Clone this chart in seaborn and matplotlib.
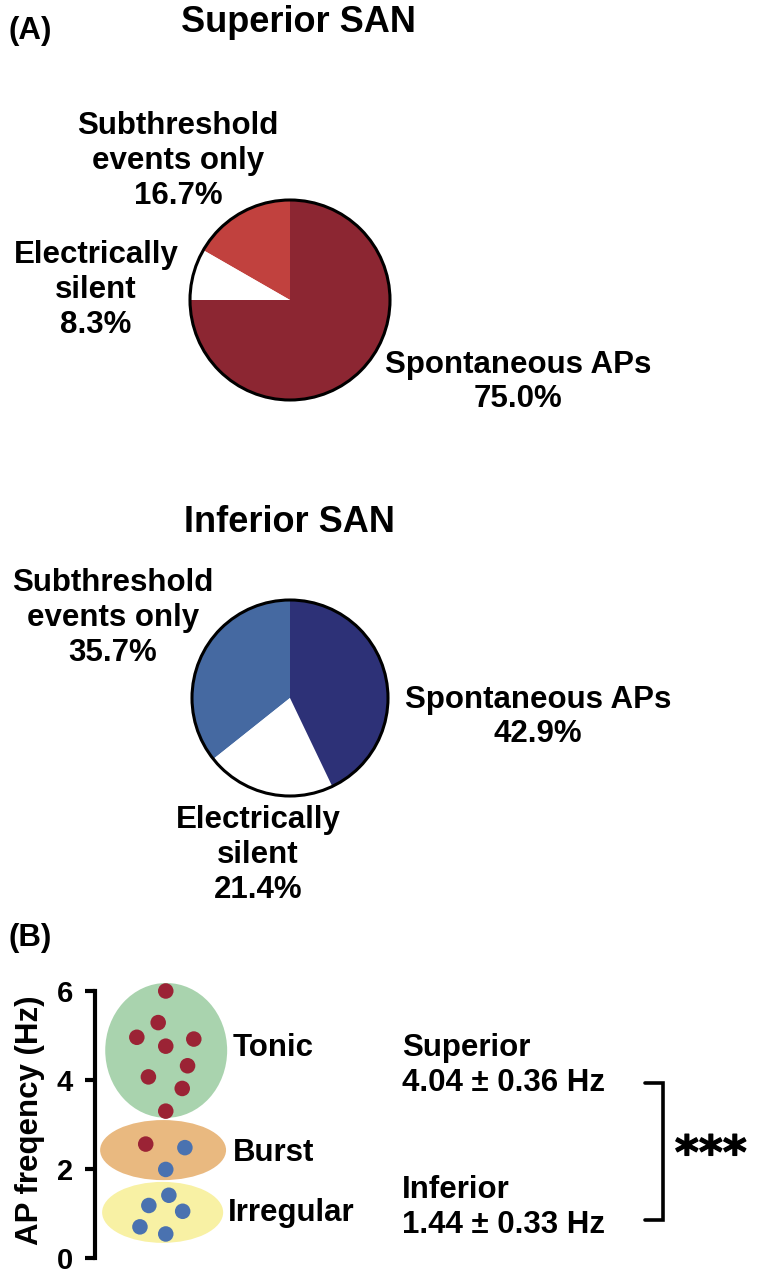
import numpy as np
import pandas as pd
import seaborn as sns
import matplotlib.pyplot as plt
import matplotlib.patheffects as pe
from matplotlib.patches import Ellipse, Circle

# ---- data ----
pie_labels = ["Subthreshold\nevents only", "Electrically\nsilent", "Spontaneous APs"]
sup_pct = [16.7, 8.3, 75.0]
inf_pct = [35.7, 21.4, 42.9]

sup_freq = [6.0, 5.29, 4.96, 4.92, 4.76, 4.32, 4.07, 3.81, 3.30, 2.56]
sup_xpos = [1.59, 1.42, 0.94, 2.22, 1.59, 2.08, 1.20, 1.96, 1.59, 1.14]
inf_freq = [2.48, 1.99, 1.41, 1.18, 1.05, 0.70, 0.54]
inf_xpos = [2.02, 1.59, 1.66, 1.21, 1.97, 1.01, 1.59]

patterns = ["Tonic", "Burst", "Irregular"]
pattern_low = [3.15, 1.75, 0.34]
pattern_high = [6.18, 3.10, 1.71]

groups = ["Superior", "Inferior"]
group_mean = [4.04, 1.44]
group_sem = [0.36, 0.33]

# ---- style ----
sup_colors = ["#c1413e", "#ffffff", "#8c2632"]
inf_colors = ["#4569a1", "#ffffff", "#2d3177"]
pattern_colors = ["#a9d3ae", "#e9b980", "#f8f1a4"]
dot_colors = ["#9b2335", "#4a72b0"]

sns.set_style("white")
plt.rcParams["font.family"] = ["Liberation Sans", "DejaVu Sans"]
plt.rcParams["font.weight"] = "bold"
plt.rcParams["text.color"] = "black"
plt.rcParams["axes.labelcolor"] = "black"
plt.rcParams["ytick.color"] = "black"

W, H = 757, 1275
fig = plt.figure(figsize=(W / 100, H / 100), dpi=100)


def px(x, y):
    return x / W, 1 - y / H


def pie_axes(cx, cy, r):
    return fig.add_axes([(cx - r) / W, 1 - (cy + r) / H, 2 * r / W, 2 * r / H])


def draw_pie(ax, pct, colors):
    ax.pie(pct, colors=colors, startangle=90, counterclock=True,
           wedgeprops=dict(linewidth=0))
    ax.add_patch(Circle((0, 0), 1, fill=False, ec="black", lw=2.2, clip_on=False))
    ax.set_xlim(-1, 1)
    ax.set_ylim(-1, 1)
    ax.set_aspect("equal")
    ax.axis("off")


def label(x, y, txt, size=22.5, ha="center"):
    fig.text(*px(x, y), txt, ha=ha, va="center", fontsize=size,
             fontweight="bold", color="black")


# ---- panel A ----
ax1 = pie_axes(290, 300, 100)
draw_pie(ax1, sup_pct, sup_colors)
ax2 = pie_axes(290, 698, 98)
draw_pie(ax2, inf_pct, inf_colors)

label(8, 31, "(A)", ha="left")
label(298, 22, "Superior SAN", size=26)
label(289, 522, "Inferior SAN", size=26)

sup_pos = [(178, 161), (96, 290), (518, 382)]
inf_pos = [(113, 618), (258, 855), (538, 717)]
for lab, p, pos in zip(pie_labels, sup_pct, sup_pos):
    label(pos[0], pos[1], f"{lab}\n{p:.1f}%")
for lab, p, pos in zip(pie_labels, inf_pct, inf_pos):
    label(pos[0], pos[1], f"{lab}\n{p:.1f}%")

# ---- panel B ----
label(8, 938, "(B)", ha="left")

unit = 44.5
axb = fig.add_axes([95 / W, 1 - 1258 / H, 662 / W, 267 / H])
axb.set_xlim(0, 662 / unit)
axb.set_ylim(0, 6)

for lo, hi, col, cx, w in zip(pattern_low, pattern_high, pattern_colors,
                             [1.60, 1.53, 1.52], [2.74, 2.83, 2.72]):
    axb.add_patch(Ellipse((cx, (lo + hi) / 2), w, hi - lo, facecolor=col,
                          edgecolor="none", clip_on=False, zorder=1))

df = pd.DataFrame({
    "freq": sup_freq + inf_freq,
    "xpos": sup_xpos + inf_xpos,
    "region": ["Superior"] * len(sup_freq) + ["Inferior"] * len(inf_freq),
})
sns.scatterplot(data=df, x="xpos", y="freq", hue="region", palette=dot_colors,
                s=125, edgecolor="none", legend=False, ax=axb, zorder=3,
                clip_on=False)

for name, y, x in zip(patterns, [4.72, 2.36, 1.01], [3.1, 3.1, 2.99]):
    axb.text(x, y, name, ha="left", va="center", fontsize=22.5, fontweight="bold")

for name, m, s, y in zip(groups, group_mean, group_sem, [4.72, 1.52]):
    axb.text(6.9, y, name, ha="left", va="center", fontsize=22.5, fontweight="bold")
    axb.text(6.9, y - 0.78, f"{m:.2f} \u00b1 {s:.2f} Hz", ha="left", va="center",
             fontsize=22.5, fontweight="bold")

axb.plot([12.36, 12.76, 12.76, 12.36], [3.93, 3.93, 0.85, 0.85],
         color="black", lw=2.6, clip_on=False, solid_joinstyle="miter")
axb.text(13.84, 2.30, "***", ha="center", va="center", fontsize=33,
         fontweight="bold", family="DejaVu Sans",
         path_effects=[pe.withStroke(linewidth=0.9, foreground="black")])

axb.set_xlabel("")
axb.set_ylabel("")
axb.text(-0.098, 0.517, "AP freqency (Hz)", transform=axb.transAxes, rotation=90,
         ha="center", va="center", fontsize=22.5, fontweight="bold")
axb.set_xticks([])
axb.set_yticks([0, 2, 4, 6])
for sp in ["top", "right", "bottom"]:
    axb.spines[sp].set_visible(False)
axb.spines["left"].set_linewidth(3)
axb.spines["left"].set_color("black")
axb.tick_params(axis="y", left=True, length=7, width=3, direction="out",
                labelsize=21, pad=9, colors="black")
axb.patch.set_alpha(0)

fig.savefig("out.png", dpi=100)
